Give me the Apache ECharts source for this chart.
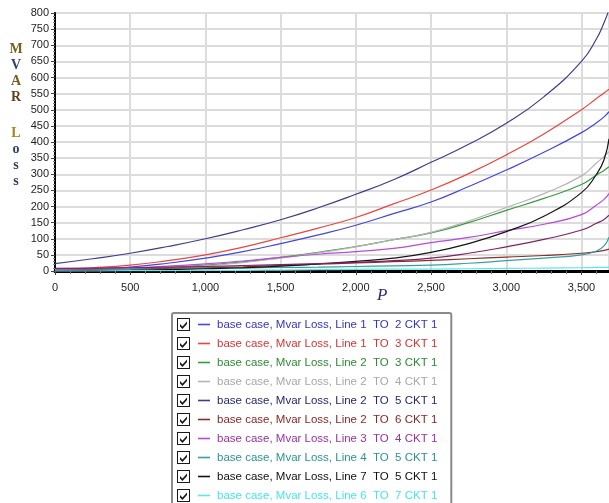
<!DOCTYPE html>
<html><head><meta charset="utf-8">
<script src="https://cdn.jsdelivr.net/npm/echarts@6/dist/echarts.min.js"></script>
<style>html,body{margin:0;padding:0;background:#fff}#c{width:609px;height:503px}</style>
</head><body><div id="c"></div>
<script>
// X values (P)
const P = [0,250,500,750,1000,1250,1500,1750,2000,2250,2500,2750,3000,3250,3500,3600,3650,3683];
// tick labels
const yTicks = [0,50,100,150,200,250,300,350,400,450,500,550,600,650,700,750,800];
const xTicks = [0,500,1000,1500,2000,2500,3000,3500];

const names = [
  'base case, Mvar Loss, Line 1  TO  2 CKT 1',
  'base case, Mvar Loss, Line 1  TO  3 CKT 1',
  'base case, Mvar Loss, Line 2  TO  3 CKT 1',
  'base case, Mvar Loss, Line 2  TO  4 CKT 1',
  'base case, Mvar Loss, Line 2  TO  5 CKT 1',
  'base case, Mvar Loss, Line 2  TO  6 CKT 1',
  'base case, Mvar Loss, Line 3  TO  4 CKT 1',
  'base case, Mvar Loss, Line 4  TO  5 CKT 1',
  'base case, Mvar Loss, Line 7  TO  5 CKT 1',
  'base case, Mvar Loss, Line 6  TO  7 CKT 1',
  'base case, Mvar Loss, Line 4  TO  6 CKT 1'
];
const lineColors = ['#4646dc','#e8463e','#3a9a3e','#b4b4b4','#3e3e8c','#8e2c2c','#b84adc','#34a2a2','#141414','#5ae8f0','#7e2262'];
const textColors = ['#3434c4','#d83434','#2e8a34','#a8a8a8','#262670','#8a2626','#9a32a4','#2a9494','#101010','#46e4ee','#7e2262'];

const line1to2 = [3,6,12,24,40,60,85,112,142,178,214,262,313,368,429,460,478,494];
const line1to3 = [5,10,18,32,50,74,103,133,166,208,251,302,360,425,500,535,552,564];
const line2to3 = [0,1,4,10,18,28,42,58,76,97,118,150,188,225,268,298,312,323];
const line2to4 = [0,1,3,8,16,26,40,56,75,97,120,155,197,240,295,335,355,370];
const line2to5 = [23,38,55,76,100,128,159,196,238,283,337,393,458,540,650,720,770,810];
const line2to6 = [3,4,6,8,10,13,17,21,25,29,33,38,43,48,55,60,64,68];
const line3to4 = [5,7,10,15,22,31,42,52,60,70,88,104,125,145,175,205,222,240];
const line4to5 = [2,3,5,6,8,9,11,12,14,16,18,24,32,40,50,62,78,105];
const line7to5 = [0,1,2,4,7,10,15,22,30,40,58,85,122,170,243,300,345,410];
const line6to7 = [0,0,1,1,2,2,3,4,5,6,6,7,8,9,10,11,11,12];
const line4to6 = [8,9,10,12,14,17,20,23,27,32,40,55,75,98,127,148,160,173];

const seriesValues = [line1to2,line1to3,line2to3,line2to4,line2to5,line2to6,line3to4,line4to5,line7to5,line6to7,line4to6];

const chart = echarts.init(document.getElementById('c'));
const rich = { g: { width: 7, height: 13 }, s: { width: 3, height: 13 } };
lineColors.forEach((c, i) => { rich['c' + i] = { width: 12, height: 1.6, backgroundColor: c, verticalAlign: 'middle' }; });

const checkbox = 'path://M0,0L13,0L13,13L0,13Z M1,1L1,12L12,12L12,1Z M3,6L5.5,8.4L10,3.4L10,6L5.5,11L3,8.6Z';

const option = {
  backgroundColor: '#fff',
  animation: false,
  title: [
    {
      text: '{a|M}\n{b|V}\n{a|A}\n{c|R}\n{e|}\n{d|L}\n{b|o}\n{b|s}\n{b|s}',
      left: 9, top: 41, padding: 0,
      textStyle: {
        fontFamily: 'Liberation Serif, DejaVu Serif, serif', fontSize: 14, fontWeight: 'bold', lineHeight: 16,
        rich: {
          a: { color: '#7a5e1e', fontFamily: 'Liberation Serif', fontSize: 14, fontWeight: 'bold', width: 14, align: 'center', lineHeight: 16 },
          b: { color: '#34406a', fontFamily: 'Liberation Serif', fontSize: 14, fontWeight: 'bold', width: 14, align: 'center', lineHeight: 16 },
          c: { color: '#5e4420', fontFamily: 'Liberation Serif', fontSize: 14, fontWeight: 'bold', width: 14, align: 'center', lineHeight: 16 },
          d: { color: '#a88420', fontFamily: 'Liberation Serif', fontSize: 14, fontWeight: 'bold', width: 14, align: 'center', lineHeight: 16 },
          e: { lineHeight: 20, width: 14 }
        }
      }
    },
    {
      text: 'P', left: 377, top: 287, padding: 0,
      textStyle: { fontFamily: 'Liberation Serif, serif', fontStyle: 'italic', fontSize: 17, fontWeight: 'normal', color: '#3a2a6e' }
    }
  ],
  grid: { left: 55, right: -2, top: 13, bottom: 232, show: true, borderColor: '#8c8c8c', borderWidth: 2, backgroundColor: '#fff', containLabel: false },
  xAxis: {
    type: 'value', min: 0, max: 3683, interval: 500,
    axisLine: { show: true, lineStyle: { color: '#000', width: 3 } },
    axisTick: { show: true, length: 4, lineStyle: { color: '#444', width: 1 } },
    minorTick: { show: true, splitNumber: 5, length: 3, lineStyle: { color: '#777' } },
    splitLine: { show: true, lineStyle: { color: '#dcdcdc', width: 2 } },
    axisLabel: {
      showMaxLabel: false, margin: 11, fontSize: 11, color: '#1e1e1e', fontFamily: 'Liberation Sans, Arial',
      formatter: v => xTicks.includes(v) ? v.toLocaleString('en-US') : ''
    }
  },
  yAxis: {
    type: 'value', min: 0, max: 800, interval: 50,
    axisLine: { show: true, lineStyle: { color: '#000', width: 2 } },
    axisTick: { show: true, length: 4, lineStyle: { color: '#444', width: 1 } },
    minorTick: { show: true, splitNumber: 5, length: 2, lineStyle: { color: '#888' } },
    splitLine: { show: true, lineStyle: { color: '#dcdcdc', width: 2 } },
    axisLabel: {
      margin: 6, fontSize: 11, color: '#1e1e1e', fontFamily: 'Liberation Sans, Arial',
      formatter: v => yTicks.includes(v) ? String(v) : ''
    }
  },
  legend: {
    orient: 'vertical', left: 172, top: 313, height: 420,
    padding: [5, 14, 5, 5],
    borderColor: '#8a8a8a', borderWidth: 2, borderRadius: 2, backgroundColor: '#fff',
    itemWidth: 13, itemHeight: 13, itemGap: 6,
    icon: checkbox,
    itemStyle: { color: '#1a1a1a', borderWidth: 0 },
    selectedMode: false,
    textStyle: { fontFamily: 'Liberation Sans, Arial', fontSize: 11.5, lineHeight: 13, rich: rich },
    formatter: name => '{s|}{c' + names.indexOf(name) + '|}{g|}' + name,
    data: names.map((n, i) => ({ name: n, textStyle: { color: textColors[i] } }))
  },
  series: names.map((n, i) => ({
    name: n, type: 'line', showSymbol: false, smooth: 0.5,
    lineStyle: { color: lineColors[i], width: 1.2 },
    itemStyle: { color: lineColors[i] },
    data: P.map((p, k) => [p, seriesValues[i][k]]),
    z: 2
  }))
};
chart.setOption(option);
</script>
</body></html>
